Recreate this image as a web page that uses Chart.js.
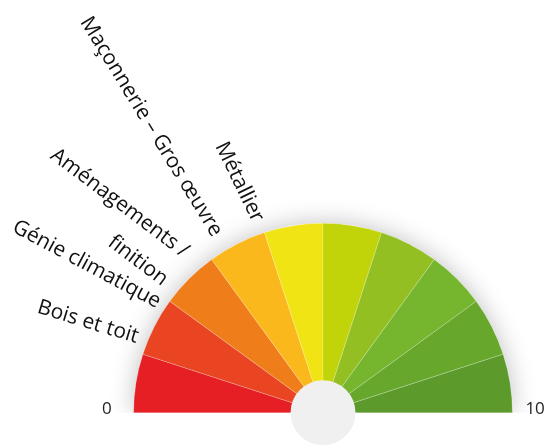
<!DOCTYPE html>
<html>
<head>
<meta charset="utf-8">
<script src="https://cdn.jsdelivr.net/npm/chart.js@4/dist/chart.umd.min.js"></script>
<style>
  html, body { margin: 0; padding: 0; background: #fff; }
  #wrap { width: 550px; height: 446px; position: relative; }
</style>
</head>
<body>
<div id="wrap"><canvas id="gauge"></canvas></div>
<script>
// gauge steps, 0 -> 10
const segmentLabels = ['0-1', '1-2', '2-3', '3-4', '4-5', '5-6', '6-7', '7-8', '8-9', '9-10'];
const segmentValues = [1, 1, 1, 1, 1, 1, 1, 1, 1, 1];
const segmentColors = ['#e51f23', '#e94523', '#ef7e1a', '#fbb81d', '#f1e414', '#c1d309', '#93bf23', '#76b62e', '#67a72c', '#5c9b2b'];

// trade names around the left side
const tradeLabels = [
    ['Bois et toit'],
    ['Génie climatique'],
    ['Aménagements /', 'finition'],
    ['Maçonnerie – Gros œuvre'],
    ['Métallier']
];

const scaleTicks = ['0', '10'];

// where each trade label sits: rotation in degrees, distance from centre, lift above radial line
const tradePlacement = [
    { rot: 17, r: 199, lift: [12] },
    { rot: 28, r: 196, lift: [14] },
    { rot: 37, r: 205, lift: [39, 4] },
    { rot: 58.5, r: 207, lift: [-3] },
    { rot: 64, r: 201, lift: [20] }
];

const shadowPlugin = {
    id: 'gaugeShadow',
    beforeDatasetsDraw(chart) {
        const arc = chart.getDatasetMeta(0).data[0];
        if (!arc) return;
        const { x, y, outerRadius } = arc.getProps(['x', 'y', 'outerRadius'], true);
        const ctx = chart.ctx;
        ctx.save();
        ctx.beginPath();
        ctx.rect(0, 0, chart.width, y);
        ctx.clip();
        ctx.shadowColor = 'rgba(0, 0, 0, 0.25)';
        ctx.shadowBlur = 24;
        ctx.fillStyle = '#fff';
        ctx.beginPath();
        ctx.arc(x, y, outerRadius, Math.PI, 2 * Math.PI);
        ctx.closePath();
        ctx.fill();
        ctx.restore();
    }
};

const decorPlugin = {
    id: 'gaugeDecor',
    afterDatasetsDraw(chart) {
        const arc = chart.getDatasetMeta(0).data[0];
        if (!arc) return;
        const { x, y, outerRadius } = arc.getProps(['x', 'y', 'outerRadius'], true);
        const ctx = chart.ctx;

        // hub
        ctx.save();
        ctx.fillStyle = '#f0f0f0';
        ctx.beginPath();
        ctx.arc(x, y, 32.5, 0, 2 * Math.PI);
        ctx.fill();
        ctx.restore();

        // 0 and 10
        ctx.save();
        ctx.font = '17px "Open Sans"';
        ctx.fillStyle = '#222';
        ctx.textBaseline = 'alphabetic';
        ctx.textAlign = 'right';
        ctx.fillText(scaleTicks[0], x - outerRadius - 22, y + 1);
        ctx.textAlign = 'left';
        ctx.fillText(scaleTicks[1], x + outerRadius + 13, y + 1);
        ctx.restore();

        // trade labels
        ctx.save();
        ctx.font = '21px "Open Sans"';
        ctx.fillStyle = '#111';
        ctx.textAlign = 'right';
        ctx.textBaseline = 'alphabetic';
        tradeLabels.forEach((lines, i) => {
            const p = tradePlacement[i];
            ctx.save();
            ctx.translate(x, y);
            ctx.rotate(p.rot * Math.PI / 180);
            lines.forEach((line, j) => {
                ctx.fillText(line, -p.r, -p.lift[j]);
            });
            ctx.restore();
        });
        ctx.restore();
    }
};

new Chart(document.getElementById('gauge'), {
    type: 'doughnut',
    data: {
        labels: segmentLabels,
        datasets: [{
            data: segmentValues,
            backgroundColor: segmentColors,
            borderColor: 'rgba(255, 255, 255, 0.35)',
            borderWidth: 0.6
        }]
    },
    options: {
        responsive: true,
        maintainAspectRatio: false,
        animation: false,
        rotation: -90,
        circumference: 180,
        cutout: 0,
        layout: {
            padding: { left: 133, right: 37, top: 223, bottom: 33 }
        },
        plugins: {
            legend: { display: false },
            tooltip: { enabled: false }
        }
    },
    plugins: [shadowPlugin, decorPlugin]
});
</script>
</body>
</html>
